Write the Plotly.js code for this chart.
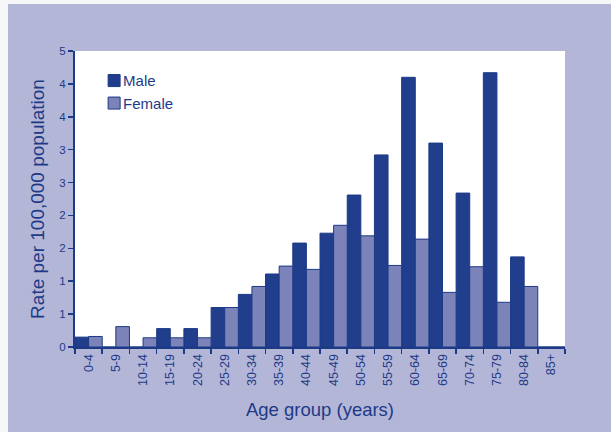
<!DOCTYPE html>
<html>
<head>
<meta charset="utf-8">
<script src="https://cdn.plot.ly/plotly-3.0.1.min.js"></script>
<style>html,body{margin:0;padding:0;background:#b4b6d7;}#chart{width:611px;height:432px;}</style>
</head>
<body>
<div id="chart"></div>
<script>
const ageGroups = ["0-4","5-9","10-14","15-19","20-24","25-29","30-34","35-39","40-44","45-49","50-54","55-59","60-64","65-69","70-74","75-79","80-84","85+"];
const maleRates = [0.15,0,0,0.28,0.28,0.60,0.80,1.11,1.58,1.73,2.31,2.92,4.10,3.10,2.34,4.17,1.37,0];
const femaleRates = [0.16,0.31,0.14,0.14,0.14,0.60,0.92,1.23,1.18,1.85,1.69,1.24,1.64,0.83,1.22,0.68,0.92,0];
const yTickVals = [0,0.5,1,1.5,2,2.5,3,3.5,4,4.5];
const yTickText = ["0","1","1","2","2","3","3","4","4","5"];

const navy = "#1d3a87";
const W = 611, H = 432, ML = 75, MR = 46, MT = 51, MB = 85;
const PW = W - ML - MR, PH = H - MT - MB;
// helpers to convert page pixels to paper coordinates for the thin white frame strips
const px = v => (v - ML) / PW;
const py = v => (H - MB - v) / PH;

const traces = [
  {type:"bar", name:"Male", x:ageGroups, y:maleRates,
   marker:{color:"#213e8c", line:{color:navy, width:1}}},
  {type:"bar", name:"Female", x:ageGroups, y:femaleRates,
   marker:{color:"#7c83b9", line:{color:navy, width:1}}}
];
const layout = {
  width:W, height:H,
  paper_bgcolor:"#b4b6d7", plot_bgcolor:"#ffffff",
  margin:{l:ML, r:MR, t:MT, b:MB},
  font:{family:"Liberation Sans, Arial, sans-serif", color:navy},
  barmode:"group", bargap:0, bargroupgap:0,
  showlegend:true,
  legend:{x:0.039, y:0.955, xanchor:"left", yanchor:"top", bgcolor:"rgba(0,0,0,0)",
          font:{size:15, color:navy}, itemwidth:30},
  shapes:[
    {type:"rect", xref:"paper", yref:"paper", layer:"below",
     x0:px(0), x1:px(8), y0:py(H), y1:py(0), fillcolor:"#f7f7fa", line:{width:0}},
    {type:"rect", xref:"paper", yref:"paper", layer:"below",
     x0:px(0), x1:px(W), y0:py(4), y1:py(0), fillcolor:"#f7f7fa", line:{width:0}}
  ],
  xaxis:{
    type:"category", showline:true, linecolor:navy, linewidth:2,
    ticks:"outside", ticklen:5, tickcolor:navy, tickwidth:1.5,
    tickson:"boundaries", tickangle:-90,
    tickfont:{size:12.5, color:navy}, showgrid:false, zeroline:false,
    title:{text:"Age group (years)", font:{size:18.5, color:navy}, standoff:18}
  },
  yaxis:{
    range:[0,4.5], tickvals:yTickVals, ticktext:yTickText,
    showline:true, linecolor:navy, linewidth:2,
    ticks:"outside", ticklen:5, tickcolor:navy, tickwidth:1.5,
    tickfont:{size:11.5, color:navy}, showgrid:false, zeroline:false,
    title:{text:"Rate per 100,000 population", font:{size:19, color:navy}, standoff:10}
  }
};
Plotly.newPlot("chart", traces, layout, {displayModeBar:false, staticPlot:true}).then(function(){
  document.querySelectorAll("#chart .legendtext").forEach(function(t){
    t.setAttribute("x", 29);
    t.querySelectorAll("tspan[x]").forEach(function(s){ s.setAttribute("x", 29); });
  });
});
</script>
</body>
</html>
